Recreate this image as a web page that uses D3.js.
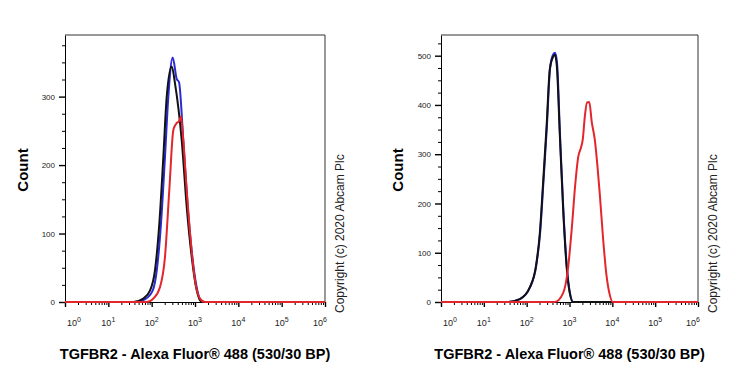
<!DOCTYPE html>
<html>
<head>
<meta charset="utf-8">
<script src="https://cdn.jsdelivr.net/npm/d3@7"></script>
<style>
  body { margin: 0; background: #fff; }
  svg { font-family: "Liberation Sans", Arial, sans-serif; }
</style>
</head>
<body>
<div id="chart-area"></div>
<script>
// fluorescence intensity / count pairs
var leftBlueX  = [1, 41, 70, 106, 131, 164, 203, 242, 306, 378, 428, 537, 679, 867, 1130, 1475, 1e6]
var leftBlueY  = [0, 0, 4, 17, 46, 114, 212, 299, 357, 326, 321, 236, 139, 66, 17, 0, 0]
var leftBlackX = [1, 38, 64, 92, 119, 150, 186, 222, 290, 346, 494, 644, 839, 1095, 1429, 1e6]
var leftBlackY = [0, 0, 5, 17, 46, 114, 212, 299, 344, 319, 236, 139, 66, 17, 0, 0]
var leftRedX   = [1, 77, 109, 156, 203, 255, 316, 365, 435, 475, 537, 644, 796, 1000, 1306, 1702, 1e6]
var leftRedY   = [0, 0, 5, 22, 66, 163, 251, 260, 265, 271, 236, 163, 90, 32, 5, 0, 0]

var rightBlueX  = [1, 34, 70, 120, 166, 206, 247, 296, 352, 418, 460, 512, 600, 716, 860, 1025, 1225, 1e6]
var rightBlueY  = [0, 0, 6, 30, 72, 140, 245, 355, 475, 503, 506, 485, 340, 190, 75, 18, 0, 0]
var rightBlackX = [1, 34, 69, 119, 164, 203, 243, 291, 347, 415, 454, 505, 594, 709, 851, 1016, 1213, 1e6]
var rightBlackY = [0, 0, 6, 30, 72, 140, 245, 355, 472, 498, 502, 480, 340, 190, 75, 18, 0, 0]
var rightRedX   = [1, 454, 709, 928, 1132, 1366, 1603, 1834, 2042, 2275, 2573, 2896, 3312, 3890, 4449, 5085, 6068, 7281, 8690, 10210, 1e6]
var rightRedY   = [0, 0, 18, 70, 150, 240, 295, 312, 330, 376, 405, 406, 365, 330, 280, 220, 130, 55, 15, 0, 0]

var decades = [1, 10, 100, 1000, 10000, 100000, 1000000]
var leftYTicks = [0, 100, 200, 300]
var rightYTicks = [0, 100, 200, 300, 400, 500]
var xTitle = "TGFBR2 - Alexa Fluor\u00ae 488 (530/30 BP)"
var copyright = "Copyright (c) 2020 Abcam Plc"

var cw = 750, ch = 375

var svg = d3.select("#chart-area").append("svg")
    .attr("width", cw)
    .attr("height", ch)

function zip(xs, ys) {
    return xs.map((v, i) => ({x: v, y: ys[i]}))
}

function panel(p) {
    var x = d3.scaleLog().domain([1, 1e6]).range([p.l, p.r])
    var y = d3.scaleLinear().domain([0, p.ymax]).range([302, 35])

    var g = svg.append("g")

    // minor log ticks
    var minor = []
    decades.slice(0, -1).forEach(d => {
        for (var k = 2; k <= 9; k++) minor.push(d * k)
    })
    g.append("g")
        .attr("transform", "translate(0,302)")
        .call(d3.axisBottom(x).tickValues(minor).tickSize(3).tickFormat(""))
        .call(a => a.select(".domain").remove())

    var xa = g.append("g")
        .attr("transform", "translate(0,302)")
        .call(d3.axisBottom(x).tickValues(decades).tickSize(5).tickSizeOuter(0).tickFormat(""))
    xa.selectAll("line").attr("stroke-width", 1.4)

    // 10^n labels
    var lab = g.selectAll(".xl").data(decades).enter().append("text")
        .attr("class", "xl")
        .attr("x", (d, i) => x(d) + (i == 0 ? 9 : i == decades.length - 1 ? -5 : 0))
        .attr("y", 326)
        .attr("font-size", "9px")
        .attr("text-anchor", "middle")
        .attr("fill", "#222")
    lab.append("tspan").text("10")
    lab.append("tspan")
        .attr("dy", -4)
        .attr("font-size", "7px")
        .text((d, i) => i)

    // y axis
    var minorY = d3.range(0, p.ymax, 25).filter(v => v % 100 != 0)
    g.append("g")
        .attr("transform", "translate(" + p.l + ",0)")
        .call(d3.axisLeft(y).tickValues(minorY).tickSize(3).tickFormat(""))
        .call(a => a.select(".domain").remove())
    var ya = g.append("g")
        .attr("transform", "translate(" + p.l + ",0)")
        .call(d3.axisLeft(y).tickValues(p.yticks).tickSize(6).tickSizeOuter(0).tickPadding(4))
    ya.selectAll("line").attr("stroke-width", 1.4)
    ya.selectAll("text").attr("font-size", "8px").attr("fill", "#222")

    // frame top and right
    g.append("path")
        .attr("d", "M" + p.l + ",35H" + p.r + "V302")
        .attr("fill", "none")
        .attr("stroke", "#333")

    var line = d3.line().x(d => x(d.x)).y(d => y(d.y)).curve(d3.curveMonotoneX)
    p.series.forEach(s => {
        g.append("path")
            .datum(zip(s.xs, s.ys))
            .attr("fill", "none")
            .attr("stroke", s.color)
            .attr("stroke-width", 2)
            .attr("stroke-linejoin", "round")
            .attr("d", line)
    })

    g.append("text")
        .attr("transform", "translate(" + p.countX + ",170) rotate(-90)")
        .attr("text-anchor", "middle")
        .attr("font-size", "15px")
        .attr("font-weight", "bold")
        .text("Count")

    g.append("text")
        .attr("x", (p.l + p.r) / 2)
        .attr("y", 359)
        .attr("text-anchor", "middle")
        .attr("font-size", "14.5px")
        .attr("font-weight", "bold")
        .text(xTitle)

    g.append("text")
        .attr("transform", "translate(" + (p.r + 19) + ",313) rotate(-90)")
        .attr("text-anchor", "start")
        .attr("font-size", "12px")
        .attr("fill", "#222")
        .text(copyright)
}

panel({
    l: 65, r: 325, ymax: 390, yticks: leftYTicks, countX: 28,
    series: [
        {xs: leftBlueX, ys: leftBlueY, color: "#2a2ad6"},
        {xs: leftBlackX, ys: leftBlackY, color: "#111"},
        {xs: leftRedX, ys: leftRedY, color: "#e3262b"}
    ]
})

panel({
    l: 441, r: 698, ymax: 542, yticks: rightYTicks, countX: 403,
    series: [
        {xs: rightBlueX, ys: rightBlueY, color: "#2a2ad6"},
        {xs: rightBlackX, ys: rightBlackY, color: "#111"},
        {xs: rightRedX, ys: rightRedY, color: "#e3262b"}
    ]
})
</script>
</body>
</html>
